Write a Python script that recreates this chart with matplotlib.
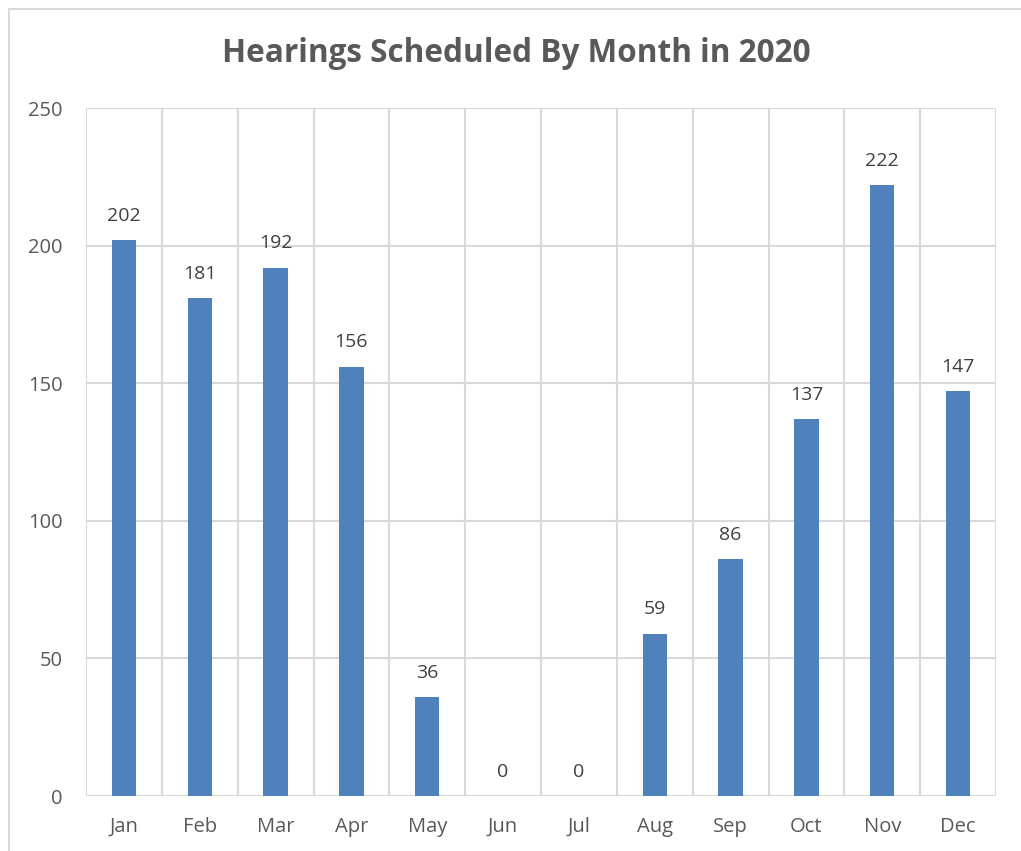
import matplotlib
matplotlib.use("Agg")
import matplotlib.pyplot as plt
from matplotlib.patches import Rectangle

months = ['Jan', 'Feb', 'Mar', 'Apr', 'May', 'Jun', 'Jul', 'Aug', 'Sep', 'Oct', 'Nov', 'Dec']
hearings = [202, 181, 192, 156, 36, 0, 0, 59, 86, 137, 222, 147]
y_ticks = [0, 50, 100, 150, 200, 250]

BAR = '#4F81BD'
GRID = '#D9D9D9'
TEXT = '#595959'

plt.rcParams['font.family'] = ['Open Sans', 'DejaVu Sans']

fig = plt.figure(figsize=(10.21, 8.51), dpi=100)
# chart border (Excel chart area), only left/top edges visible in the crop
fig.patches.append(Rectangle((9 / 1021, -0.1), 1.2, 1 - 9 / 851 + 0.1,
                             transform=fig.transFigure, fill=False,
                             edgecolor=GRID, linewidth=1.5))

ax = fig.add_axes([86 / 1021, 1 - 796 / 851, 910 / 1021, 688 / 851])
x = range(len(months))
ax.bar(x, hearings, width=0.32, color=BAR, zorder=3)

for i, v in enumerate(hearings):
    ax.annotate(str(v), xy=(i, v), xytext=(0, 11), textcoords='offset points',
                ha='center', va='bottom', fontsize=14, color='#404040')

ax.set_xlim(-0.5, len(months) - 0.5)
ax.set_ylim(0, 250)
ax.set_yticks(y_ticks)
ax.set_xticks(list(x))
ax.set_xticklabels(months)
ax.tick_params(axis='y', length=0, pad=17, labelsize=14.5, labelcolor=TEXT)
ax.tick_params(axis='x', length=0, pad=15, labelsize=14.5, labelcolor=TEXT)

# horizontal gridlines plus vertical category separators
ax.grid(axis='y', color=GRID, linewidth=1.5, zorder=0)
for b in range(len(months) + 1):
    ax.axvline(b - 0.5, color=GRID, linewidth=1.5, zorder=0)
for s in ax.spines.values():
    s.set_visible(False)
ax.axhline(0, color=GRID, linewidth=1.5, zorder=2)

fig.text(516 / 1021, 1 - 54 / 851, 'Hearings Scheduled By Month in 2020',
         ha='center', va='center', fontsize=22.7, fontweight='bold', color=TEXT)

fig.savefig('out.png', dpi=100)
